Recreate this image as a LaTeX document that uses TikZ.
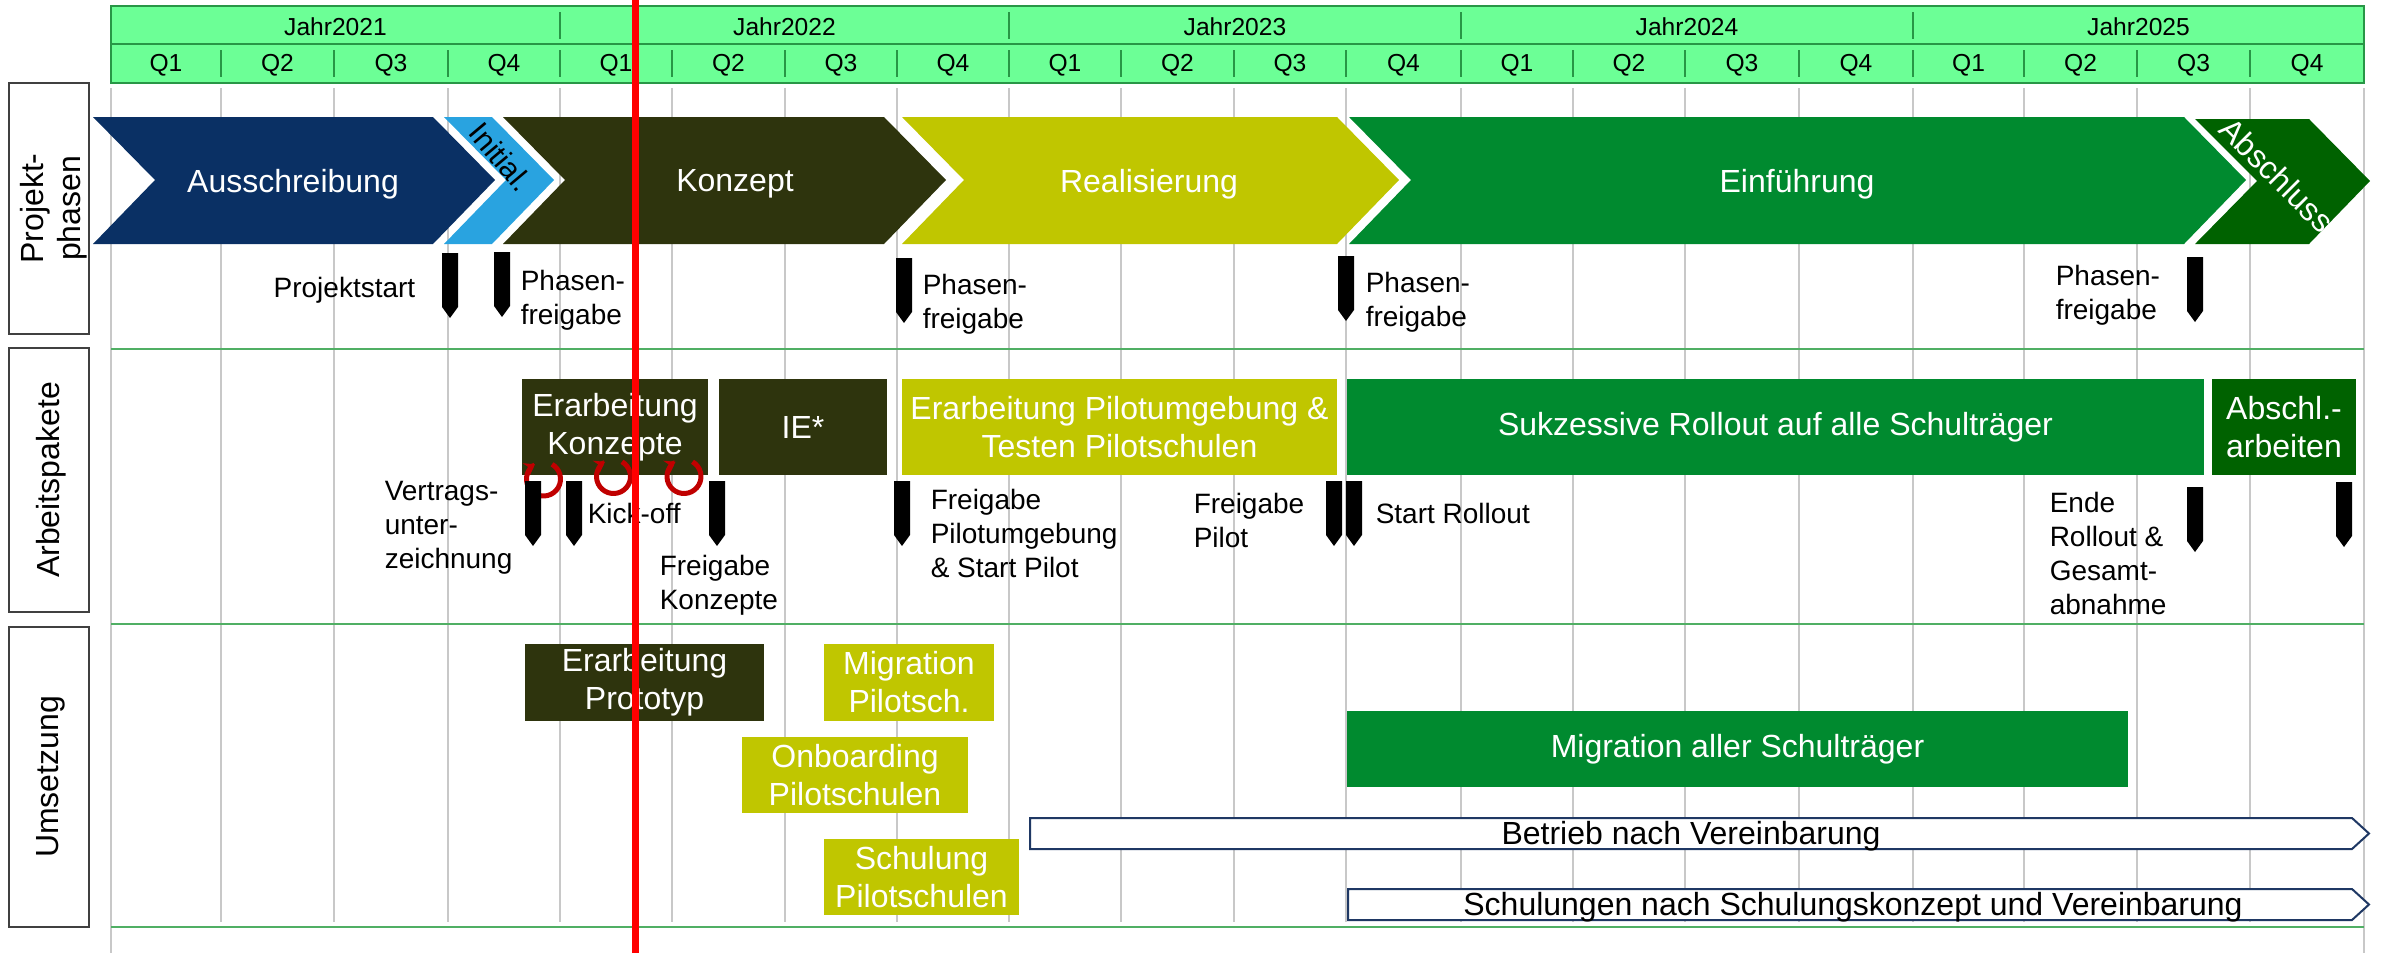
\documentclass[tikz,border=0pt]{standalone}
\usepackage{fontspec}
\setmainfont{Liberation Sans}
\usepackage{tikz}
\usetikzlibrary{arrows.meta, positioning}

\definecolor{headgreen}{RGB}{108,255,150}
\definecolor{headline}{RGB}{40,150,70}
\definecolor{rowline}{RGB}{80,175,100}
\definecolor{gridgray}{RGB}{200,200,200}
\definecolor{navy}{RGB}{10,48,100}
\definecolor{skyblue}{RGB}{41,163,224}
\definecolor{darkolive}{RGB}{46,52,13}
\definecolor{pilotolive}{RGB}{192,198,0}
\definecolor{rollgreen}{RGB}{0,138,47}
\definecolor{endgreen}{RGB}{0,98,0}
\definecolor{loopred}{RGB}{192,0,0}
\definecolor{arrowblue}{RGB}{31,56,100}

\tikzset{
  milestone/.pic={\fill (-8,0) -- (8,0) -- (8,54) -- (0,65) -- (-8,54) -- cycle;}
}

\begin{document}
\begin{tikzpicture}[x=0.5pt, y=-0.5pt, line width=0.75pt,
    yearlbl/.style={inner sep=0pt, font=\fontsize{12.3}{14}\selectfont},
    qlbl/.style={inner sep=0pt, font=\fontsize{12.3}{14}\selectfont},
    gridline/.style={draw=gridgray, line width=0.75pt},
    rowsep/.style={draw=rowline, line width=1pt},
    titlebox/.style={draw=black!75, line width=0.8pt, fill=white, minimum width=40pt},
    titletext/.style={rotate=90, align=center, inner sep=0pt, font=\fontsize{16}{18.5}\selectfont},
    phase/.style={text=white, inner sep=0pt, font=\fontsize{16}{19}\selectfont},
    pack/.style={rectangle, fill=#1, text=white, align=center, inner sep=0pt, font=\fontsize{16}{19}\selectfont},
    msnote/.style={align=left, inner sep=0pt, font=\fontsize{14}{17}\selectfont},
    runarrow/.style={draw=arrowblue, fill=white, line width=1pt, line join=miter},
    runtext/.style={inner sep=0pt, font=\fontsize{16}{19}\selectfont},
    loop arc/.style={draw=loopred, line width=2.5pt, -{Stealth[length=5pt, width=7pt]}},
    redline/.style={draw=red, line width=3.5pt}]
  \useasboundingbox (0,0) rectangle (2384,953);

  % header with years and quarters
  \fill[headgreen] (111,6) rectangle (2364,83);
  \draw[headline] (111,6) rectangle (2364,83);
  \draw[headline] (111,44) -- (2364,44);
  \foreach \x in {560,1009,1461,1913}
    \draw[headline] (\x,12) -- (\x,39);
  \foreach \x in {221,334,448,560,672,785,897,1009,1121,1234,1346,1461,1573,1685,1799,1913,2024,2137,2250}
    \draw[headline] (\x,50) -- (\x,77);
  \foreach \yr/\c in {2021/335.5, 2022/784.5, 2023/1235, 2024/1687, 2025/2138.5}
    \node[yearlbl] (y\yr) at (\c,27) {Jahr\yr};
  \foreach \a/\b [count=\n from 0] in {111/221,221/334,334/448,448/560,560/672,672/785,785/897,897/1009,1009/1121,1121/1234,1234/1346,1346/1461,1461/1573,1573/1685,1685/1799,1799/1913,1913/2024,2024/2137,2137/2250,2250/2364}{
    \pgfmathtruncatemacro{\q}{mod(\n,4)+1}
    \node[qlbl] (q\n) at ({(\a+\b)/2},65) {Q\q};
  }

  % grid and rows
  \foreach \x in {221,334,448,560,672,785,897,1009,1121,1234,1346,1461,1573,1685,1799,1913,2024,2137,2250}
    \draw[gridline] (\x,88) -- (\x,922);
  \draw[gridline] (111,88) -- (111,953);
  \draw[gridline] (2364,88) -- (2364,953);
  \foreach \y in {349,624,927}
    \draw[rowsep] (111,\y) -- (2364,\y);

  \node[titlebox, minimum height=125.5pt] (projbox) at (49,208.5) {};
  \node[titlebox, minimum height=132pt] (packbox) at (49,480) {};
  \node[titlebox, minimum height=150pt] (implbox) at (49,777) {};
  \node[titletext] (projtitle) at (54,208.5) {Projekt-\\phasen};
  \node[titletext] (packtitle) at (51,480) {Arbeitspakete};
  \node[titletext] (impltitle) at (51,777) {Umsetzung};

  % project phases
  \fill[navy] (93,117) -- (433,117) -- (495,180) -- (433,244) -- (93,244) -- (155,180) -- cycle;
  \fill[skyblue] (444,117) -- (492,117) -- (554,180) -- (492,244) -- (444,244) -- (506,180) -- cycle;
  \fill[darkolive] (503,117) -- (884,117) -- (946,180) -- (884,244) -- (503,244) -- (565,180) -- cycle;
  \fill[pilotolive] (902,117) -- (1337,117) -- (1399,180) -- (1337,244) -- (902,244) -- (964,180) -- cycle;
  \fill[rollgreen] (1349,117) -- (2184,117) -- (2246,180) -- (2184,244) -- (1349,244) -- (1411,180) -- cycle;
  \fill[endgreen] (2195,119) -- (2309,119) -- (2370,181) -- (2309,244) -- (2195,244) -- (2257,181) -- cycle;

  \node[phase] (ausschr) at (293,184) {Ausschreibung};
  \node[phase, text=black, rotate=-50, font=\fontsize{15}{18}\selectfont] (initial) at (501,157) {Initial.};
  \node[phase] (konzept) at (735,184) {Konzept};
  \node[phase] (realis) at (1149,184) {Realisierung};
  \node[phase] (einf) at (1797,184) {Einführung};
  \node[phase, rotate=-45] (abschluss) at (2277,175) {Abschluss};

  \pic at (450,253) {milestone};
  \pic at (502,252) {milestone};
  \pic at (904,258) {milestone};
  \pic at (1346,256) {milestone};
  \pic at (2195,257) {milestone};

  \node[msnote, anchor=east] (projektstart) at (416,290) {Projektstart};
  \node[msnote, anchor=west] (freigabeA) at (520,300) {Phasen-\\freigabe};
  \node[msnote, anchor=west] (freigabeB) at (922,304) {Phasen-\\freigabe};
  \node[msnote, anchor=west] (freigabeC) at (1365,302) {Phasen-\\freigabe};
  \node[msnote, anchor=west] (freigabeD) at (2055,295) {Phasen-\\freigabe};

  % work packages
  \node[pack=darkolive, minimum width=93pt, minimum height=48pt] (konzepte) at (615,427) {Erarbeitung\\Konzepte};
  \node[pack=darkolive, minimum width=84pt, minimum height=48pt] (ie) at (803,427) {IE*};
  \node[pack=pilotolive, minimum width=217.5pt, minimum height=48pt] (pilot) at (1119.5,427) {Erarbeitung Pilotumgebung \&\\Testen Pilotschulen};
  \node[pack=rollgreen, minimum width=428.5pt, minimum height=48pt] (rollout) at (1775.5,427) {Sukzessive Rollout auf alle Schulträger};
  \node[pack=endgreen, minimum width=72pt, minimum height=48pt] (abschl) at (2284,427) {Abschl.-\\arbeiten};

  \foreach \cx/\cy in {543.5/479, 613.5/476.5, 684/476.5}
    \draw[loop arc] (\cx,\cy) ++(60:8.5pt) arc[start angle=60, end angle=-240, radius=8.5pt];

  \pic at (533,481) {milestone};
  \pic at (574,481) {milestone};
  \pic at (717,481) {milestone};
  \pic at (902,481) {milestone};
  \pic at (1334,481) {milestone};
  \pic at (1354,481) {milestone};
  \pic at (2195,487) {milestone};
  \pic at (2344,482) {milestone};

  \node[msnote, anchor=west] (vertrag) at (384,528) {Vertrags-\\unter-\\zeichnung};
  \node[msnote, anchor=west] (kickoff) at (587,513) {Kick-off};
  \node[msnote, anchor=west] (freikonz) at (659,585) {Freigabe\\Konzepte};
  \node[msnote, anchor=west] (freiumg) at (930,533) {Freigabe\\Pilotumgebung\\\& Start Pilot};
  \node[msnote, anchor=west] (freipilot) at (1193,520) {Freigabe\\Pilot};
  \node[msnote, anchor=west] (startroll) at (1375,513) {Start Rollout};
  \node[msnote, anchor=west] (enderoll) at (2049,553) {Ende\\Rollout \&\\Gesamt-\\abnahme};

  % implementation
  \node[pack=darkolive, minimum width=119.5pt, minimum height=38.5pt] (prototyp) at (644.5,682.5) {Erarbeitung\\Prototyp};
  \node[pack=pilotolive, minimum width=85pt, minimum height=38.5pt] (migpilot) at (909,682.5) {Migration\\Pilotsch.};
  \node[pack=pilotolive, minimum width=113pt, minimum height=38pt] (onboard) at (855,775) {Onboarding\\Pilotschulen};
  \node[pack=pilotolive, minimum width=97.5pt, minimum height=38pt] (schulung) at (921.5,877) {Schulung\\Pilotschulen};
  \node[pack=rollgreen, minimum width=390.5pt, minimum height=38pt] (migall) at (1737.5,749) {Migration aller Schulträger};

  \draw[runarrow] (1030,818) -- (2352,818) -- (2369,833.5) -- (2352,849) -- (1030,849) -- cycle;
  \node[runtext] (betrieb) at (1691,836) {Betrieb nach Vereinbarung};
  \draw[runarrow] (1348,889) -- (2352,889) -- (2369,904.5) -- (2352,920) -- (1348,920) -- cycle;
  \node[runtext] (schulungen) at (1853,907) {Schulungen nach Schulungskonzept und Vereinbarung};

  % today
  \draw[redline] (635,0) -- (635,953);
\end{tikzpicture}
\end{document}
